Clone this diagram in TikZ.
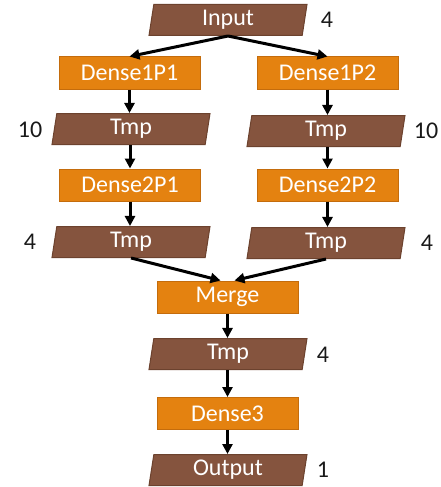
\documentclass[tikz,border=0pt]{standalone}
\usepackage{fontspec}
\setmainfont{Carlito}
\usetikzlibrary{shapes.geometric,arrows.meta}
\definecolor{tmpfill}{RGB}{133,84,62}
\definecolor{tmpline}{RGB}{108,66,46}
\definecolor{opfill}{RGB}{228,130,16}
\definecolor{opline}{RGB}{196,108,12}
\definecolor{lbl}{RGB}{25,25,25}
\tikzset{
  data/.style={trapezium, trapezium left angle=76, trapezium right angle=104,
    trapezium stretches body, minimum width=158pt, minimum height=31pt,
    fill=tmpfill, draw=tmpline, line width=1pt, text=white, inner sep=0pt,
    font=\fontsize{24}{24}\selectfont},
  op/.style={rectangle, minimum width=141pt, minimum height=32pt,
    fill=opfill, draw=opline, line width=1pt, text=white, inner sep=0pt,
    font=\fontsize{24}{24}\selectfont},
  size/.style={text=lbl, inner sep=0pt, font=\fontsize{24}{24}\selectfont},
  flow/.style={line width=3pt, -{Triangle[length=10pt,width=10pt]}}
}
\begin{document}
\begin{tikzpicture}[x=1pt,y=-1pt]
\useasboundingbox (0,0) rectangle (441,487);
% data and layer nodes
\node[data] (in) at (228,20) {Input};
\node[op] (d1a) at (129.5,73) {Dense1P1};
\node[op] (d1b) at (327.5,73) {Dense1P2};
\node[data] (t1a) at (131,129) {Tmp};
\node[data] (t1b) at (326,131) {Tmp};
\node[op] (d2a) at (130,185) {Dense2P1};
\node[op] (d2b) at (327.5,185) {Dense2P2};
\node[data] (t2a) at (131,242) {Tmp};
\node[data] (t2b) at (326,243) {Tmp};
\node[op] (mg) at (227.5,297) {Merge};
\node[data] (t3) at (228,354) {Tmp};
\node[op] (d3) at (227.5,413.5) {Dense3};
\node[data] (out) at (228,470) {Output};
% tensor sizes
\node[size] (s0) at (327,20) {4};
\node[size] (s1a) at (30,130) {10};
\node[size] (s1b) at (426,131) {10};
\node[size] (s2a) at (30,242) {4};
\node[size] (s2b) at (427,243) {4};
\node[size] (s3) at (323,355) {4};
\node[size] (s4) at (323,470) {1};
% connectors
\draw[flow] (in.south) -- (d1a.north);
\draw[flow] (in.south) -- (d1b.north);
\draw[flow] (d1a) -- (t1a.north -| d1a);
\draw[flow] (d1b) -- (t1b.north -| d1b);
\draw[flow] (t1a.south -| d2a) -- (d2a);
\draw[flow] (t1b.south -| d2b) -- (d2b);
\draw[flow] (d2a) -- (t2a.north -| d2a);
\draw[flow] (d2b) -- (t2b.north -| d2b);
\draw[flow] (t2a.south) -- ([xshift=-7pt]mg.north);
\draw[flow] (t2b.south) -- ([xshift=7pt]mg.north);
\draw[flow] (mg) -- (t3.north -| mg);
\draw[flow] (t3.south -| d3) -- (d3);
\draw[flow] (d3) -- (out.north -| d3);
\end{tikzpicture}
\end{document}
